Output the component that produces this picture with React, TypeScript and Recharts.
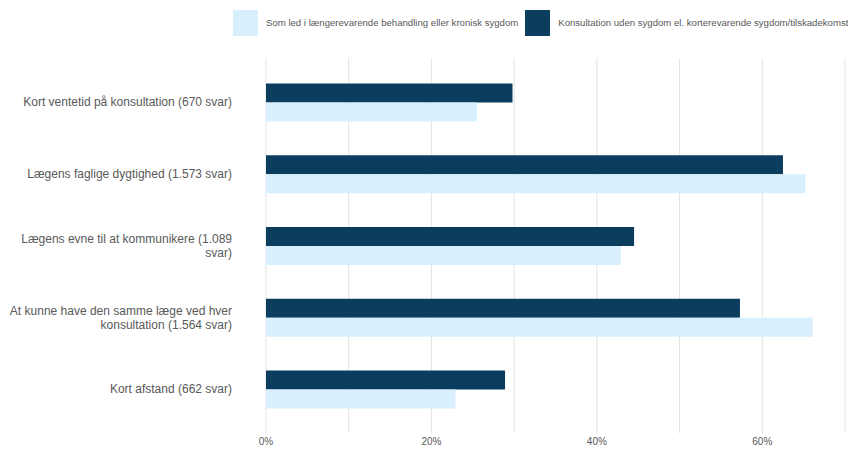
import { BarChart, Bar, XAxis, YAxis, CartesianGrid, Legend } from 'recharts';

// survey answers, share of respondents per reason
const categories = [
  'Kort ventetid på konsultation (670 svar)',
  'Lægens faglige dygtighed (1.573 svar)',
  'Lægens evne til at kommunikere (1.089\nsvar)',
  'At kunne have den samme læge ved hver\nkonsultation (1.564 svar)',
  'Kort afstand (662 svar)',
];
const chronicValues = [0.255, 0.652, 0.429, 0.661, 0.229];
const shortTermValues = [0.298, 0.625, 0.445, 0.573, 0.289];
const xTicks = [0, 0.1, 0.2, 0.3, 0.4, 0.5, 0.6, 0.7];
const labeledTicks = [0, 0.2, 0.4, 0.6];

const chronicName = 'Som led i længerevarende behandling eller kronisk sygdom';
const shortTermName = 'Konsultation uden sygdom el. kortere­varende sygdom/tilskadekomst';

const DARK = '#0b3d5e';
const LIGHT = '#d8effd';
const FONT = '"Liberation Sans", Arial, sans-serif';

const data = categories.map((name, i) => ({
  name,
  chronic: chronicValues[i],
  shortTerm: shortTermValues[i],
}));

const CategoryTick = (props: any) => {
  const { x, y, payload } = props;
  const lines = String(payload.value).split('\n');
  const lh = 14;
  const y0 = y - ((lines.length - 1) * lh) / 2;
  return (
    <text x={x} y={y0} textAnchor="end" fill="#595959" fontSize={12} fontFamily={FONT}>
      {lines.map((l, i) => (
        <tspan key={i} x={x} dy={i === 0 ? '0.35em' : lh}>
          {l}
        </tspan>
      ))}
    </text>
  );
};

const legendItems = [
  { name: chronicName, color: LIGHT },
  { name: shortTermName, color: DARK },
];

const ChartLegend = () => (
  <div
    style={{
      display: 'flex',
      alignItems: 'center',
      height: 45,
      paddingLeft: 233,
      whiteSpace: 'nowrap',
      overflow: 'hidden',
      fontFamily: FONT,
      fontSize: 9.6,
      color: '#595959',
      boxSizing: 'border-box',
    }}
  >
    {legendItems.map((item) => (
      <div key={item.name} style={{ display: 'flex', alignItems: 'center', marginRight: 7 }}>
        <div style={{ width: 25, height: 26, background: item.color, marginRight: 8, flexShrink: 0 }} />
        <span>{item.name}</span>
      </div>
    ))}
  </div>
);

export default function App() {
  return (
    <div style={{ position: 'absolute', left: 0, top: 0, background: '#fff' }}>
      <BarChart
        width={848}
        height={449}
        data={data}
        layout="vertical"
        margin={{ top: 58, right: 3, bottom: 0, left: 0 }}
        barCategoryGap="24.2%"
        barGap={0}
      >
        <CartesianGrid horizontal={false} stroke="#e3e3e3" />
        <XAxis
          type="number"
          domain={[0, 0.7]}
          ticks={xTicks}
          height={16}
          axisLine={false}
          tickLine={false}
          tickSize={0}
          tickMargin={5}
          interval={0}
          tick={{ fill: '#595959', fontSize: 10, fontFamily: FONT }}
          tickFormatter={(v: number) =>
            labeledTicks.some((t) => Math.abs(t - v) < 1e-6) ? `${Math.round(v * 100)}%` : ''
          }
        />
        <YAxis
          type="category"
          dataKey="name"
          width={266}
          axisLine={false}
          tickLine={false}
          tickSize={0}
          tickMargin={34}
          interval={0}
          padding={{ top: 8, bottom: 8 }}
          tick={<CategoryTick />}
        />
        <Legend
          verticalAlign="middle"
          width={848}
          wrapperStyle={{ top: 0, left: 0, width: 848, height: 45 }}
          content={<ChartLegend />}
        />
        <Bar dataKey="shortTerm" name={shortTermName} fill={DARK} isAnimationActive={false} />
        <Bar dataKey="chronic" name={chronicName} fill={LIGHT} isAnimationActive={false} />
      </BarChart>
    </div>
  );
}
